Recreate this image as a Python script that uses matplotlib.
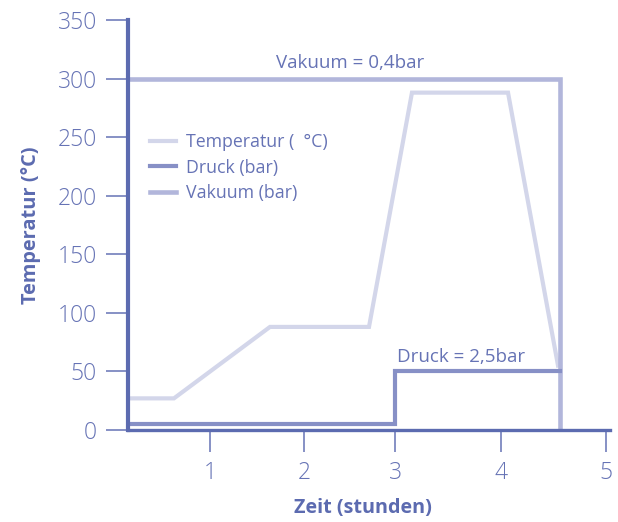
import matplotlib
matplotlib.use("Agg")
import matplotlib.pyplot as plt

# Data (time units chosen so ticks sit where the reference shows them)
tick_pos = [1.0, 1.95, 2.87, 3.94, 5.0]
tick_labels = ["1", "2", "3", "4", "5"]
y_ticks = [0, 50, 100, 150, 200, 250, 300, 350]

temp_x = [0.172, 0.636, 1.606, 2.606, 3.04, 4.01, 4.515]
temp_y = [27, 27, 88, 88, 288, 288, 55]

druck_x = [0.172, 2.87, 2.87, 4.53]
druck_y = [5, 5, 50, 50]

vak_x = [0.172, 4.54, 4.54]
vak_y = [300, 300, 0]

C_TEMP = "#d3d6ea"
C_DRUCK = "#8790c6"
C_VAK = "#b2b6db"
C_AXIS = "#5c6bb0"
C_TEXT = "#6673b5"

plt.rcParams['font.family'] = ['Open Sans', 'DejaVu Sans']

fig = plt.figure(figsize=(6.18, 5.22), dpi=100)
ax = fig.add_axes([128/618, 1-430/522, (610-128)/618, (430-20)/522])

ax.plot(temp_x, temp_y, color=C_TEMP, lw=3.0, solid_joinstyle='miter', label="Temperatur (  °C)", zorder=2)
ax.plot(druck_x, druck_y, color=C_DRUCK, lw=3.0, solid_joinstyle='miter', label="Druck (bar)", zorder=3)
ax.plot(vak_x, vak_y, color=C_VAK, lw=3.3, solid_joinstyle='miter', label="Vakuum (bar)", zorder=2)

ax.set_xlim(0.172, 5.04)
ax.set_ylim(0, 350)

for s in ['top', 'right']:
    ax.spines[s].set_visible(False)
ax.spines['left'].set_linewidth(3.0)
ax.spines['left'].set_color(C_AXIS)
ax.spines['bottom'].set_linewidth(2.4)
ax.spines['bottom'].set_color(C_AXIS)
ax.spines['left'].set_zorder(5)
ax.spines['bottom'].set_zorder(5)

ax.set_xticks(tick_pos)
ax.set_xticklabels(tick_labels)
ax.set_yticks(y_ticks)
ax.tick_params(axis='both', direction='out', length=16, width=1.1, color=C_TEXT,
               labelcolor=C_TEXT, labelsize=16.5)
ax.tick_params(axis='x', pad=6)
ax.tick_params(axis='y', pad=6.5)
for lab in ax.get_xticklabels() + ax.get_yticklabels():
    lab.set_fontweight('light')

ax.set_xlabel("Zeit (stunden)", fontsize=14.2, fontweight='bold', color=C_AXIS, labelpad=12)
ax.xaxis.set_label_coords((362.5 - 128) / 482, -0.165)
ax.set_ylabel("Temperatur (°C)", fontsize=14.4, fontweight='bold', color=C_AXIS, labelpad=12)

ax.text(2.42, 300 + 6, "Vakuum = 0,4bar", color=C_TEXT, fontsize=13.5, ha='center', va='bottom')
ax.text(2.89, 50 + 5, "Druck = 2,5bar", color=C_TEXT, fontsize=13.5, ha='left', va='bottom')

leg = ax.legend(loc='upper left', bbox_to_anchor=(0.012, 0.763), frameon=False,
                fontsize=12.8, handlelength=1.5, handletextpad=0.55, labelspacing=0.42,
                labelcolor=C_TEXT)

fig.savefig("out.png", dpi=100)
